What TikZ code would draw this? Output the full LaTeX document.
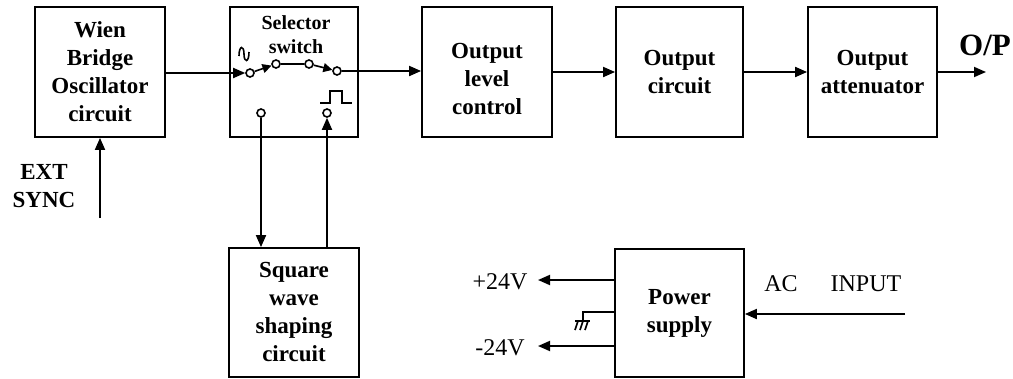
\documentclass[tikz,border=0pt]{standalone}
\usepackage{fontspec}
\setmainfont{Liberation Serif}
\usetikzlibrary{arrows.meta}
\begin{document}
\begin{tikzpicture}[x=1pt,y=-1pt,
  blk/.style={draw,line width=1.8pt,minimum height=130pt,inner sep=0pt,align=center,
    font=\fontsize{23}{28}\selectfont\bfseries},
  conn/.style={line width=1.8pt,-{Triangle[length=12pt,width=10pt]}},
  sconn/.style={line width=1.6pt,-{Triangle[length=9pt,width=9pt]}},
  wire/.style={line width=1.8pt},
  term/.style={circle,draw,line width=1.6pt,inner sep=0pt,minimum size=8pt,fill=white},
  lbl/.style={inner sep=0pt,font=\fontsize{24}{28}\selectfont},
  blbl/.style={inner sep=0pt,align=center,font=\fontsize{23}{28}\selectfont\bfseries}]
\useasboundingbox (0,0) rectangle (1013,378);

% blocks
\node[blk,minimum width=130pt] (wien) at (100,72) {Wien\\Bridge\\Oscillator\\circuit};
\node[blk,minimum width=128pt,anchor=north] (sel) at (294,6) {};
\node[blk,minimum width=130pt] (olc) at (487,72) {};
\node[blbl] (olctxt) at (487,79) {Output\\level\\control};
\node[blk,minimum width=127pt] (oc) at (679.5,72) {Output\\circuit};
\node[blk,minimum width=129pt] (oa) at (872.5,72) {Output\\attenuator};
\node[blk,minimum width=130pt,minimum height=129pt] (sq) at (294,312.5) {Square\\wave\\shaping\\circuit};
\node[blk,minimum width=129pt,minimum height=128pt] (ps) at (679.5,313) {Power\\supply};

% selector switch label
\node[inner sep=0pt,align=center,font=\fontsize{20}{24}\selectfont\bfseries] (seltxt) at (296,35) {Selector\\switch};

% switch terminals
\node[term] (c1) at (250,73) {};
\node[term] (c2) at (276,64) {};
\node[term] (c3) at (309,64) {};
\node[term] (c4) at (337,71) {};
\node[term] (s1) at (261,113) {};
\node[term] (s2) at (327,113) {};

% tilde and pulse symbols
\draw[line width=1.6pt] (239,56) .. controls (239,45) and (244,45) .. (244,54)
  .. controls (244,63) and (249,63) .. (249,52);
\draw[line width=1.5pt] (320,103) -- (330,103) -- (330,91) -- (342,91) -- (342,103) -- (352,103);

% main signal chain
\draw[conn] (wien.east |- c1) -- (c1);
\draw[sconn] (c1) -- (c2);
\draw[wire] (c2) -- (c3);
\draw[sconn] (c3) -- (c4);
\draw[conn] (c4) -- (olc.west |- c4);
\draw[conn] (olc.east) -- (oc.west);
\draw[conn] (oc.east) -- (oa.west);
\coordinate (op) at (986,72);
\draw[conn] (oa.east) -- (op);
\node[inner sep=0pt,font=\fontsize{31}{34}\selectfont\bfseries] (optxt) at (985,45) {O/P};

% square wave loop
\draw[conn] (s1) -- (s1 |- sq.north);
\draw[conn] (s2 |- sq.north) -- (s2);

% ext sync
\coordinate (ext) at (100,218);
\draw[conn] (ext) -- (wien.south);
\node[blbl] (exttxt) at (44,186) {EXT\\SYNC};

% power supply outputs
\coordinate (p24) at (538,280);
\coordinate (m24) at (538,346);
\draw[conn] (ps.west |- p24) -- (p24);
\draw[conn] (ps.west |- m24) -- (m24);
\node[lbl] (p24txt) at (500,282) {+24V};
\node[lbl] (m24txt) at (500,348) {-24V};

% ground
\coordinate (g0) at (583,312);
\coordinate (g1) at (583,321);
\draw[wire] (ps.west |- g0) -- (g0) -- (g1);
\draw[line width=1.6pt] (575,321) -- (590,321);
\draw[line width=1.6pt] (578,321) -- (575,330) (583,321) -- (580,330) (588,321) -- (585,330);

% AC input
\coordinate (ac) at (905,314);
\draw[conn] (ac) -- (ps.east |- ac);
\node[lbl] (actxt) at (781,284) {AC};
\node[lbl] (intxt) at (866,284) {INPUT};
\end{tikzpicture}
\end{document}
